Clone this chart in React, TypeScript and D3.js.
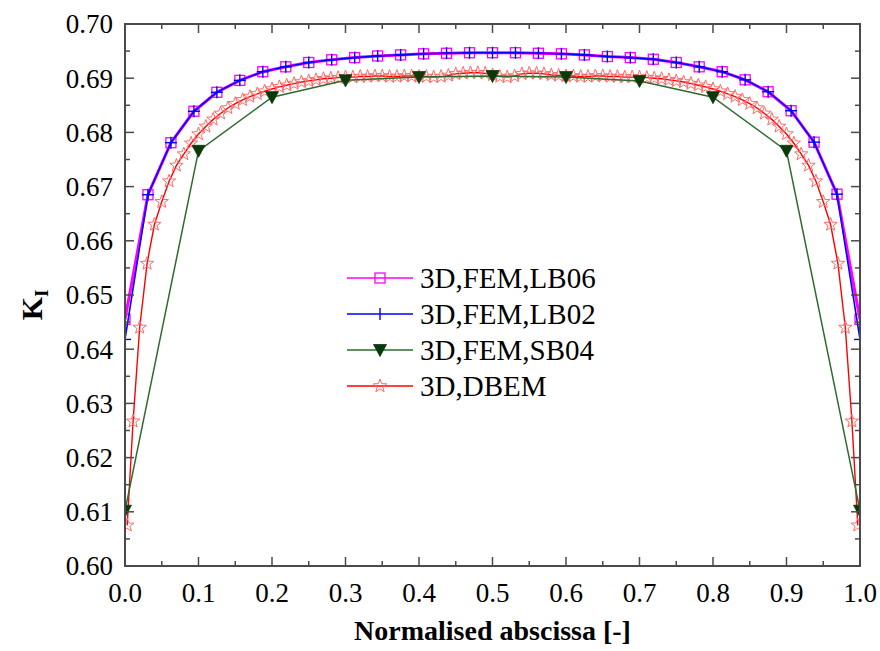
import React from "react";
import * as d3 from "d3";

const lbX: number[] = d3.range(0, 33).map((k) => k / 32);
const lb06: number[] = [0.6455, 0.6685, 0.6781, 0.6839, 0.6874, 0.6896, 0.6912, 0.6921, 0.6929, 0.6934, 0.6938, 0.6941, 0.6943, 0.6945, 0.6946, 0.6947, 0.6947, 0.6947, 0.6946, 0.6945, 0.6943, 0.6940, 0.6938, 0.6935, 0.6929, 0.6921, 0.6912, 0.6897, 0.6875, 0.6840, 0.6782, 0.6686, 0.6455];
const lb02: number[] = [0.6418, 0.6685, 0.6781, 0.6839, 0.6874, 0.6896, 0.6912, 0.6921, 0.6929, 0.6934, 0.6938, 0.6941, 0.6943, 0.6945, 0.6946, 0.6947, 0.6947, 0.6947, 0.6946, 0.6945, 0.6943, 0.6940, 0.6938, 0.6935, 0.6929, 0.6921, 0.6912, 0.6897, 0.6875, 0.6840, 0.6782, 0.6686, 0.6418];

const sbX: number[] = [0, 0.1, 0.2, 0.3, 0.4, 0.5, 0.6, 0.7, 0.8, 0.9, 1.0];
const sb04: number[] = [0.6102, 0.6766, 0.6865, 0.6896, 0.6902, 0.6904, 0.6902, 0.6895, 0.6865, 0.6766, 0.6102];

const dbemX: number[] = [0.003, 0.011, 0.02, 0.03, 0.04, 0.05, 0.06, 0.07, 0.08, 0.09, 0.10, 0.11, 0.12, 0.13, 0.14, 0.15, 0.16, 0.17, 0.18, 0.19, 0.20, 0.21, 0.22, 0.23, 0.24, 0.25, 0.26, 0.27, 0.28, 0.29, 0.30, 0.31, 0.32, 0.33, 0.34, 0.35, 0.36, 0.37, 0.38, 0.39, 0.40, 0.41, 0.42, 0.43, 0.44, 0.45, 0.46, 0.47, 0.48, 0.49, 0.50, 0.51, 0.52, 0.53, 0.54, 0.55, 0.56, 0.57, 0.58, 0.59, 0.60, 0.61, 0.62, 0.63, 0.64, 0.65, 0.66, 0.67, 0.68, 0.69, 0.70, 0.71, 0.72, 0.73, 0.74, 0.75, 0.76, 0.77, 0.78, 0.79, 0.80, 0.81, 0.82, 0.83, 0.84, 0.85, 0.86, 0.87, 0.88, 0.89, 0.90, 0.91, 0.92, 0.93, 0.94, 0.95, 0.96, 0.97, 0.98, 0.989, 0.997];
const dbem: number[] = [0.6075, 0.6267, 0.6440, 0.6558, 0.6630, 0.6672, 0.6710, 0.6739, 0.6760, 0.6780, 0.6797, 0.6811, 0.6824, 0.6835, 0.6845, 0.6853, 0.6860, 0.6866, 0.6871, 0.6876, 0.6880, 0.6884, 0.6887, 0.6890, 0.6893, 0.6895, 0.6897, 0.6899, 0.6900, 0.6901, 0.6902, 0.6902, 0.6903, 0.6903, 0.6904, 0.6904, 0.6903, 0.6903, 0.6904, 0.6904, 0.6903, 0.6903, 0.6902, 0.6903, 0.6905, 0.6908, 0.6909, 0.6910, 0.6910, 0.6909, 0.6906, 0.6903, 0.6902, 0.6904, 0.6908, 0.6909, 0.6909, 0.6908, 0.6906, 0.6905, 0.6904, 0.6904, 0.6903, 0.6903, 0.6904, 0.6904, 0.6903, 0.6903, 0.6902, 0.6902, 0.6902, 0.6901, 0.6900, 0.6899, 0.6897, 0.6895, 0.6893, 0.6890, 0.6887, 0.6884, 0.6880, 0.6876, 0.6871, 0.6866, 0.6860, 0.6853, 0.6845, 0.6835, 0.6824, 0.6811, 0.6797, 0.6780, 0.6760, 0.6739, 0.6710, 0.6672, 0.6630, 0.6558, 0.6440, 0.6267, 0.6075];

const xTicks: number[] = [0, 0.1, 0.2, 0.3, 0.4, 0.5, 0.6, 0.7, 0.8, 0.9, 1.0];
const yTicks: number[] = [0.6, 0.61, 0.62, 0.63, 0.64, 0.65, 0.66, 0.67, 0.68, 0.69, 0.7];
const legendLabels: string[] = ["3D,FEM,LB06", "3D,FEM,LB02", "3D,FEM,SB04", "3D,DBEM"];

const W = 880, H = 651;
const L = 125, R = 860, T = 24, B = 566;
const FONT = "Liberation Serif";

const starPath = (ro: number, ri: number) => {
  const pts: string[] = [];
  for (let i = 0; i < 10; i++) {
    const r = i % 2 === 0 ? ro : ri;
    const a = -Math.PI / 2 + (i * Math.PI) / 5;
    pts.push(`${(r * Math.cos(a)).toFixed(2)},${(r * Math.sin(a)).toFixed(2)}`);
  }
  return "M" + pts.join("L") + "Z";
};
const STAR = starPath(7, 2.9);
const TRI = "M-6.5,-5.5L6.5,-5.5L0,6.5Z";

function Square({ x, y }: { x: number; y: number }) {
  return <rect x={x - 5} y={y - 5} width={10} height={10} fill="none" stroke="#ff00ff" strokeWidth={1.3} />;
}
function Plus({ x, y, legend }: { x: number; y: number; legend?: boolean }) {
  return (
    <g stroke="#0000ff" strokeWidth={1.4}>
      <line x1={x} x2={x} y1={y - 6} y2={y + 6} />
      {!legend && <line x1={x - 6} x2={x + 6} y1={y} y2={y} />}
    </g>
  );
}
function Tri({ x, y }: { x: number; y: number }) {
  return <path d={TRI} transform={`translate(${x},${y})`} fill="#0a3a0a" stroke="#0a3a0a" strokeWidth={0.8} />;
}
function Star({ x, y }: { x: number; y: number }) {
  return <path d={STAR} transform={`translate(${x},${y})`} fill="none" stroke="#ff6a6a" strokeWidth={1} />;
}

function Txt(props: any) {
  const { children, ...rest } = props;
  return <text fontFamily={FONT} style={{ fontFamily: FONT }} {...rest}>{children}</text>;
}

export default function App() {
  const x = d3.scaleLinear().domain([0, 1]).range([L, R]);
  const y = d3.scaleLinear().domain([0.6, 0.7]).range([B, T]);
  const line = (xs: number[], ys: number[]) =>
    d3.line<number>().x((_, i) => x(xs[i])).y((d) => y(d))(ys) || "";

  const xMinor = d3.range(0, 21).map((i) => i / 20);
  const yMinor = d3.range(0, 21).map((i) => 0.6 + i * 0.005);
  const isMajorX = (v: number) => Math.abs(v * 10 - Math.round(v * 10)) < 1e-6;
  const isMajorY = (v: number) => Math.abs(v * 100 - Math.round(v * 100)) < 1e-6;

  const legY = [278, 314, 350, 386];
  const legX1 = 347, legX2 = 413, legM = 380;

  return (
    <svg width={W} height={H} style={{ position: "absolute", left: 0, top: 0, display: "block" }}>
      <defs>
        <clipPath id="plot">
          <rect x={L} y={T} width={R - L} height={B - T} />
        </clipPath>
      </defs>
      <rect x={0} y={0} width={W} height={H} fill="#fff" />

      <g clipPath="url(#plot)">
        <path d={line(dbemX, dbem)} fill="none" stroke="#ff0000" strokeWidth={1.4} />
        {dbemX.map((v, i) => <Star key={"s" + i} x={x(v)} y={y(dbem[i])} />)}
        <path d={line(sbX, sb04)} fill="none" stroke="#2f6b2f" strokeWidth={1.5} />
        {sbX.map((v, i) => <Tri key={"t" + i} x={x(v)} y={y(sb04[i])} />)}
        <path d={line(lbX, lb06)} fill="none" stroke="#ff00ff" strokeWidth={3} />
        {lbX.map((v, i) => <Square key={"q" + i} x={x(v)} y={y(lb06[i])} />)}
        <path d={line(lbX, lb02)} fill="none" stroke="#0000ff" strokeWidth={1.6} />
        {lbX.map((v, i) => <Plus key={"p" + i} x={x(v)} y={y(lb02[i])} />)}
      </g>

      <rect x={L} y={T} width={R - L} height={B - T} fill="none" stroke="#4a4a4a" strokeWidth={2} />
      <g stroke="#4a4a4a" strokeWidth={1.5}>
        {xMinor.map((v, i) => {
          const len = isMajorX(v) ? 9 : 5;
          return (
            <g key={"xt" + i}>
              <line x1={x(v)} x2={x(v)} y1={B} y2={B - len} />
              <line x1={x(v)} x2={x(v)} y1={T} y2={T + len} />
            </g>
          );
        })}
        {yMinor.map((v, i) => {
          const len = isMajorY(v) ? 9 : 5;
          return (
            <g key={"yt" + i}>
              <line x1={L} x2={L + len} y1={y(v)} y2={y(v)} />
              <line x1={R} x2={R - len} y1={y(v)} y2={y(v)} />
            </g>
          );
        })}
      </g>
      {xTicks.map((v) => (
        <Txt key={"xl" + v} x={x(v)} y={B + 36} textAnchor="middle" fontSize={27}>{d3.format(".1f")(v)}</Txt>
      ))}
      {yTicks.map((v) => (
        <Txt key={"yl" + v} x={L - 12} y={y(v)} dy="0.35em" textAnchor="end" fontSize={27}>{d3.format(".2f")(v)}</Txt>
      ))}
      <Txt x={(L + R) / 2} y={640} textAnchor="middle" fontSize={28} fontWeight="bold">Normalised abscissa [-]</Txt>
      <Txt transform={`translate(42,${(T + B) / 2 + 10}) rotate(-90)`} textAnchor="middle" fontSize={30} fontWeight="bold">
        K<tspan fontSize={18} dy="6">I</tspan>
      </Txt>

      <line x1={legX1} x2={legX2} y1={legY[0]} y2={legY[0]} stroke="#ff00ff" strokeWidth={1.6} />
      <Square x={legM} y={legY[0]} />
      <line x1={legX1} x2={legX2} y1={legY[1]} y2={legY[1]} stroke="#0000ff" strokeWidth={1.6} />
      <Plus x={legM} y={legY[1]} legend />
      <line x1={legX1} x2={legX2} y1={legY[2]} y2={legY[2]} stroke="#2f6b2f" strokeWidth={1.5} />
      <Tri x={legM} y={legY[2]} />
      <line x1={legX1} x2={legX2} y1={legY[3]} y2={legY[3]} stroke="#ff0000" strokeWidth={1.4} />
      <Star x={legM} y={legY[3]} />
      {legendLabels.map((s, i) => (
        <Txt key={s} x={420} y={legY[i]} dy="0.35em" fontSize={29}>{s}</Txt>
      ))}
    </svg>
  );
}
